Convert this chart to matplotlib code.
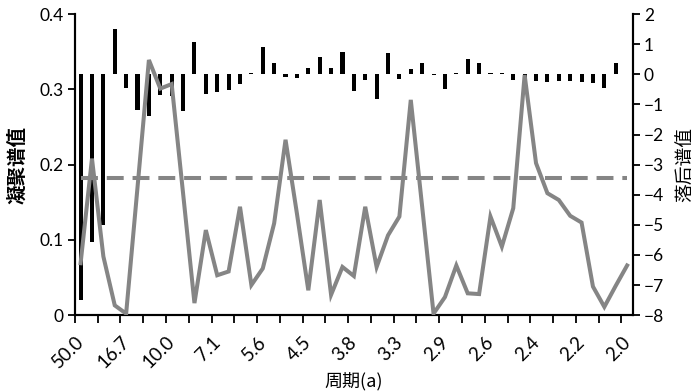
import numpy as np
import matplotlib
matplotlib.use("Agg")
import matplotlib.pyplot as plt

plt.rcParams['font.family'] = ['Lato', 'Noto Sans CJK SC', 'DejaVu Sans']

# 凝聚谱值 (left axis), one value per category
coherence = [0.069, 0.208, 0.078, 0.013, 0.002, 0.170, 0.339, 0.301, 0.307, 0.162,
             0.016, 0.113, 0.053, 0.058, 0.144, 0.040, 0.062, 0.122, 0.233, 0.135,
             0.033, 0.153, 0.027, 0.064, 0.052, 0.144, 0.064, 0.106, 0.131, 0.286,
             0.144, 0.002, 0.024, 0.066, 0.029, 0.028, 0.131, 0.091, 0.142, 0.319,
             0.202, 0.162, 0.153, 0.132, 0.123, 0.038, 0.011, 0.039, 0.066]

# 落后谱值 (right axis)
lag = [-7.50, -5.56, -5.00, 1.52, -0.46, -1.18, -1.39, -0.70, -0.71, -1.22,
       1.08, -0.67, -0.59, -0.51, -0.33, 0.05, 0.91, 0.37, -0.08, -0.13,
       0.22, 0.56, 0.22, 0.74, -0.57, -0.18, -0.83, 0.72, -0.14, 0.19,
       0.39, -0.04, -0.48, 0.05, 0.50, 0.36, 0.04, 0.03, -0.20, -0.20,
       -0.21, -0.24, -0.21, -0.21, -0.24, -0.29, -0.46, 0.38]

threshold = 0.182

period_labels = ["50.0", "16.7", "10.0", "7.1", "5.6", "4.5", "3.8",
                 "3.3", "2.9", "2.6", "2.4", "2.2", "2.0"]

n = len(coherence)
x = np.arange(n)

fig = plt.figure(figsize=(7, 3.91), dpi=100)
ax = fig.add_axes([0.107, 0.194, 0.797, 0.770])   # bars, y on the right
ax2 = ax.twinx()                                    # line, y on the left

ax.bar(np.arange(len(lag)), lag, width=0.36, color="black", zorder=2)
ax.set_ylim(-8, 2)
ax.set_yticks(np.arange(-8, 3, 1))
ax.set_yticklabels([f"{v}".replace("-", "\u2212") for v in range(-8, 3)])
ax.yaxis.tick_right()
ax.yaxis.set_label_position("right")

ax2.plot(x, coherence, color="#858585", lw=2.9, solid_joinstyle="miter", zorder=3)
ax2.plot(x, [threshold] * n, color="#858585", lw=2.9, ls=(0, (4.2, 2.2)), zorder=3)
ax2.set_ylim(0, 0.4)
ax2.set_yticks([0, 0.1, 0.2, 0.3, 0.4])
ax2.set_yticklabels(["0", "0.1", "0.2", "0.3", "0.4"])
ax2.yaxis.tick_left()
ax2.yaxis.set_label_position("left")

# labelled ticks every 4 categories, plain ticks in between
ax.set_xlim(-0.5, n - 0.5)
ax.set_xticks(np.arange(-0.5, n - 1, 4))
ax.set_xticklabels(period_labels, rotation=45, ha="right", va="top",
                   rotation_mode="anchor", fontsize=13.5)
ax.set_xticks(np.arange(1.5, n - 1, 4), minor=True)
ax.tick_params(axis="x", which="both", length=6, width=1.3, direction="out", pad=7)

for a in (ax, ax2):
    a.spines["top"].set_visible(False)
    for s in ("left", "right", "bottom"):
        a.spines[s].set_linewidth(1.5)
    a.tick_params(axis="y", length=5, width=1.3, labelsize=12.5, pad=3)

ax2.set_ylabel("凝聚谱值", family=["Noto Sans CJK SC"], fontsize=14,
               fontweight="bold", labelpad=9)
ax.set_ylabel("落后谱值", family=["Noto Sans CJK SC"], fontsize=13.5, labelpad=7)
ax.set_xlabel("周期(a)", family=["Noto Sans CJK SC"], fontsize=13, labelpad=1)

fig.savefig("out.png", dpi=100)
